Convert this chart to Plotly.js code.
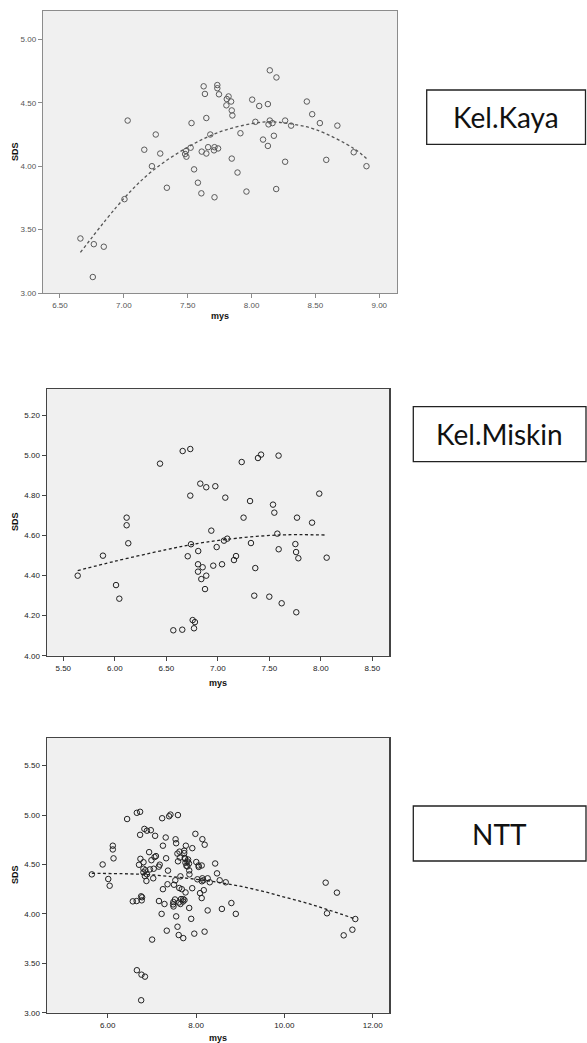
<!DOCTYPE html>
<html>
<head>
<meta charset="utf-8">
<script src="https://cdn.plot.ly/plotly-3.0.1.min.js"></script>
<style>html,body{margin:0;padding:0;background:#fff;}#chart{width:587px;height:1043px;}</style>
</head>
<body>
<div id="chart"></div>
<script>
// ---- Panel 1: Kel.Kaya ----
const kayaMys = [6.66, 6.765, 6.843, 6.757, 7.005, 7.03, 7.16, 7.22, 7.25, 7.285, 7.337, 7.48, 7.49, 7.487, 7.523, 7.53, 7.55, 7.58, 7.607, 7.61, 7.625, 7.635, 7.646, 7.646, 7.66, 7.677, 7.71, 7.71, 7.706, 7.738, 7.732, 7.732, 7.745, 7.82, 7.806, 7.84, 7.803, 7.845, 7.85, 7.845, 7.89, 7.913, 7.96, 8.005, 8.03, 8.06, 8.09, 8.128, 8.128, 8.133, 8.143, 8.143, 8.164, 8.175, 8.193, 8.195, 8.263, 8.263, 8.31, 8.433, 8.475, 8.535, 8.585, 8.672, 8.80, 8.90];
const kayaSds = [3.43, 3.385, 3.365, 3.126, 3.74, 4.36, 4.13, 4.00, 4.25, 4.10, 3.83, 4.096, 4.075, 4.12, 4.146, 4.34, 3.975, 3.87, 3.786, 4.115, 4.63, 4.57, 4.38, 4.10, 4.15, 4.25, 3.755, 4.15, 4.125, 4.14, 4.64, 4.615, 4.567, 4.55, 4.53, 4.51, 4.48, 4.44, 4.40, 4.06, 3.95, 4.26, 3.80, 4.525, 4.35, 4.475, 4.21, 4.49, 4.16, 4.33, 4.756, 4.36, 4.34, 4.24, 3.82, 4.70, 4.035, 4.36, 4.32, 4.51, 4.41, 4.34, 4.05, 4.32, 4.11, 4.00];
const kayaFitMys = [6.66, 7.0, 7.22, 7.5, 7.75, 8.0, 8.15, 8.3, 8.5, 8.8, 8.9];
const kayaFitSds = [3.32, 3.745, 3.96, 4.15, 4.27, 4.335, 4.35, 4.335, 4.29, 4.14, 4.06];

// ---- Panel 2: Kel.Miskin ----
const miskinMys = [6.115, 6.115, 6.439, 6.659, 6.733, 6.83, 6.888, 6.976, 6.733, 7.073, 7.232, 7.313, 7.25, 7.39, 7.42, 7.59, 7.536, 7.549, 7.769, 5.64, 5.885, 6.012, 6.044, 6.131, 6.568, 6.655, 6.769, 6.756, 6.778, 6.708, 6.74, 6.81, 6.937, 6.808, 6.853, 6.808, 6.888, 6.84, 6.876, 6.956, 6.989, 7.041, 7.06, 7.092, 7.177, 7.157, 7.322, 7.364, 7.354, 7.50, 7.62, 7.578, 7.591, 7.753, 7.76, 7.782, 7.762, 7.985, 7.915, 8.057];
const miskinSds = [4.69, 4.652, 4.96, 5.023, 5.033, 4.86, 4.842, 4.847, 4.80, 4.79, 4.968, 4.773, 4.69, 4.988, 5.005, 5.00, 4.755, 4.715, 4.69, 4.40, 4.50, 4.353, 4.285, 4.562, 4.127, 4.13, 4.137, 4.178, 4.168, 4.497, 4.557, 4.523, 4.625, 4.457, 4.442, 4.42, 4.40, 4.383, 4.333, 4.45, 4.543, 4.457, 4.575, 4.585, 4.498, 4.478, 4.563, 4.438, 4.30, 4.295, 4.262, 4.61, 4.532, 4.558, 4.518, 4.487, 4.217, 4.81, 4.665, 4.49];
const miskinFitMys = [5.64, 6.0, 6.5, 6.74, 7.06, 7.58, 8.057];
const miskinFitSds = [4.425, 4.472, 4.53, 4.555, 4.58, 4.603, 4.603];

// ---- Panel 3: NTT (all districts plus the high-mys ones) ----
const nttExtraMys = [10.935, 11.19, 10.965, 11.606, 11.54, 11.343];
const nttExtraSds = [4.316, 4.215, 4.006, 3.948, 3.84, 3.783];
const nttFitMys = [5.64, 6.5, 7.0, 7.5, 8.0, 8.5, 9.0, 9.5, 10.0, 10.5, 11.0, 11.6];
const nttFitSds = [4.41, 4.405, 4.395, 4.375, 4.35, 4.32, 4.28, 4.23, 4.17, 4.11, 4.04, 3.95];
const nttMys = kayaMys.concat(miskinMys, nttExtraMys);
const nttSds = kayaSds.concat(miskinSds, nttExtraSds);

const panelNames = ["Kel.Kaya", "Kel.Miskin", "NTT"];
const xTitle = "mys";
const yTitle = "SDS";

const W = 587, H = 1043;
const px = v => v / W;
const py = v => 1 - v / H;

function scatter(x, y, xa, ya, col) {
  return {x: x, y: y, xaxis: xa, yaxis: ya, type: 'scatter', mode: 'markers',
    marker: {symbol: 'circle-open', size: 5.5, color: col, line: {width: 1, color: col}},
    hoverinfo: 'x+y', showlegend: false};
}
function fit(x, y, xa, ya, col) {
  return {x: x, y: y, xaxis: xa, yaxis: ya, type: 'scatter', mode: 'lines',
    line: {color: col, width: 1.3, dash: '3px,2.5px', shape: 'spline', smoothing: 1},
    hoverinfo: 'skip', showlegend: false};
}

const data = [
  scatter(kayaMys, kayaSds, 'x', 'y', '#5a5a5a'),
  fit(kayaFitMys, kayaFitSds, 'x', 'y', '#555'),
  scatter(miskinMys, miskinSds, 'x2', 'y2', '#222'),
  fit(miskinFitMys, miskinFitSds, 'x2', 'y2', '#222'),
  scatter(nttMys, nttSds, 'x3', 'y3', '#222'),
  fit(nttFitMys, nttFitSds, 'x3', 'y3', '#222')
];

function ax(domain, range, tick0, dtick, anchor, lc, tc) {
  return {domain: domain, range: range, anchor: anchor, tick0: tick0, dtick: dtick,
    tickformat: '.2f', ticks: 'outside', ticklen: 4, tickwidth: 1, tickcolor: lc,
    showline: true, linecolor: lc, linewidth: 1.2, mirror: true,
    showgrid: false, zeroline: false, fixedrange: true,
    tickfont: {family: 'Liberation Sans, Arial, sans-serif', size: 8, color: tc}};
}

const p1 = {x: [px(43), px(397)], y: [py(293), py(11)]};
const p2 = {x: [px(46.7), px(389.3)], y: [py(655.7), py(389)]};
const p3 = {x: [px(46.7), px(389.3)], y: [py(1012.7), py(737.7)]};

const titleFont = {family: 'Liberation Sans, Arial, sans-serif', size: 9, color: '#111'};
function lbl(text, x, y, angle) {
  return {text: '<b>' + text + '</b>', x: px(x), y: py(y), xref: 'paper', yref: 'paper',
    showarrow: false, textangle: angle || 0, font: titleFont, xanchor: 'center', yanchor: 'middle'};
}
const boxFont = {family: 'Lato, Open Sans, sans-serif', size: 28, color: '#111'};
function boxText(text, x0, x1, y0, y1) {
  return {text: text, x: px((x0 + x1) / 2), y: py((y0 + y1) / 2), xref: 'paper', yref: 'paper',
    showarrow: false, font: boxFont, xanchor: 'center', yanchor: 'middle'};
}
function boxShape(x0, x1, y0, y1) {
  return {type: 'rect', xref: 'paper', yref: 'paper', x0: px(x0), x1: px(x1), y0: py(y1), y1: py(y0),
    line: {color: '#222', width: 1.3}, fillcolor: 'rgba(0,0,0,0)'};
}

const boxes = [
  [426.7, 585.5, 90, 144.3],
  [413.3, 586, 406.7, 461.7],
  [413.3, 586, 806, 861]
];

const layout = {
  width: W, height: H,
  margin: {l: 0, r: 0, t: 0, b: 0},
  paper_bgcolor: '#ffffff',
  plot_bgcolor: '#f0f0f0',
  showlegend: false,
  xaxis: ax(p1.x, [6.367, 9.139], 6.5, 0.5, 'y', '#8c8c8c', '#555'),
  yaxis: ax(p1.y, [3.0, 5.224], 3.0, 0.5, 'x', '#8c8c8c', '#555'),
  xaxis2: ax(p2.x, [5.339, 8.665], 5.5, 0.5, 'y2', '#444', '#222'),
  yaxis2: ax(p2.y, [4.0, 5.333], 4.0, 0.2, 'x2', '#444', '#222'),
  xaxis3: ax(p3.x, [4.618, 12.376], 6, 2, 'y3', '#444', '#222'),
  yaxis3: ax(p3.y, [3.0, 5.783], 3.0, 0.5, 'x3', '#444', '#222'),
  annotations: [
    lbl(xTitle, 220, 316), lbl(yTitle, 15, 152, -90),
    lbl(xTitle, 218, 683), lbl(yTitle, 15, 522, -90),
    lbl(xTitle, 218, 1038), lbl(yTitle, 15, 875, -90)
  ].concat(boxes.map((b, i) => boxText(panelNames[i], b[0], b[1], b[2], b[3]))),
  shapes: boxes.map(b => boxShape(b[0], b[1], b[2], b[3]))
};

Plotly.newPlot('chart', data, layout, {staticPlot: true, displayModeBar: false});
</script>
</body>
</html>
